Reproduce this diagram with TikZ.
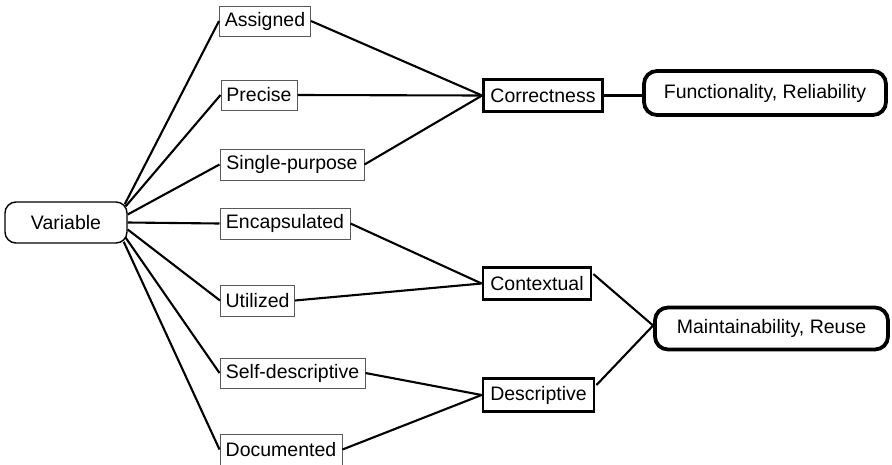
\documentclass[tikz,border=0pt]{standalone}
\usepackage{fontspec}
\setmainfont{Liberation Sans}
\usetikzlibrary{calc}
\begin{document}
\begin{tikzpicture}[x=1pt,y=-1pt,
  every node/.style={inner sep=0pt,font=\fontsize{19.5}{22}\selectfont,text=black},
  root/.style={draw=black,line width=1.4pt,rounded corners=11pt},
  trait/.style={draw=black!65,line width=1pt,fill=white},
  group/.style={draw=black,line width=2.8pt,fill=white},
  goal/.style={draw=black,line width=3.8pt,rounded corners=13pt,fill=white},
  link/.style={draw=black,line width=2.1pt}]
\useasboundingbox (0,0) rectangle (892,464);

% left: the variable and its seven properties
\node[root,minimum width=122pt,minimum height=41pt] (var) at (66,222.5) {Variable};
\node[trait,minimum width=91pt,minimum height=30pt]  (asg) at (265,21)    {Assigned};
\node[trait,minimum width=76pt,minimum height=30pt]  (pre) at (259,95)    {Precise};
\node[trait,minimum width=144pt,minimum height=31pt] (sng) at (292,164.5) {Single-purpose};
\node[trait,minimum width=130pt,minimum height=31pt] (enc) at (285,223.5) {Encapsulated};
\node[trait,minimum width=74pt,minimum height=31pt]  (utl) at (257.5,300.5) {Utilized};
\node[trait,minimum width=145pt,minimum height=30pt] (sdc) at (292.5,373) {Self-descriptive};
\node[trait,minimum width=122pt,minimum height=31pt] (doc) at (281,449.5) {Documented};

% middle: quality groups
\node[group,minimum width=119pt,minimum height=32pt] (cor) at (543,95.5)  {Correctness};
\node[group,minimum width=108pt,minimum height=32pt] (ctx) at (537,283.5) {Contextual};
\node[group,minimum width=111pt,minimum height=33pt] (dsc) at (538.5,395) {Descriptive};

% right: resulting qualities
\node[goal,minimum width=242pt,minimum height=44pt] (fun) at (765,93)  {Functionality, Reliability};
\node[goal,minimum width=233pt,minimum height=42pt] (mnt) at (771.5,328.5) {Maintainability, Reuse};

% fan from the variable
\draw[link] ($(var.north east)+(-3,3)$) -- (asg.west);
\draw[link] ($(var.north east)+(-2,5)$) -- (pre.west);
\draw[link] ($(var.east)+(0,-8)$) -- (sng.west);
\draw[link] (var.east) -- (enc.west);
\draw[link] ($(var.east)+(0,7)$) -- (utl.west);
\draw[link] ($(var.south east)+(-2,-6)$) -- (sdc.west);
\draw[link] ($(var.south east)+(-4,-2)$) -- (doc.west);

% properties to groups
\draw[link] (asg.east) -- (cor.west);
\draw[link] (pre.east) -- (cor.west);
\draw[link] (sng.east) -- (cor.west);
\draw[link] (enc.east) -- (ctx.west);
\draw[link] (utl.east) -- (ctx.west);
\draw[link] (sdc.east) -- (dsc.west);
\draw[link] (doc.east) -- (dsc.west);

% groups to qualities
\draw[link] (cor.east) -- (cor.east -| fun.west);
\draw[link] ($(ctx.north east)+(1,8)$) -- ($(mnt.west)+(0,-3)$);
\draw[link] ($(dsc.north east)+(1,8)$) -- ($(mnt.west)+(0,-3)$);
\end{tikzpicture}
\end{document}
